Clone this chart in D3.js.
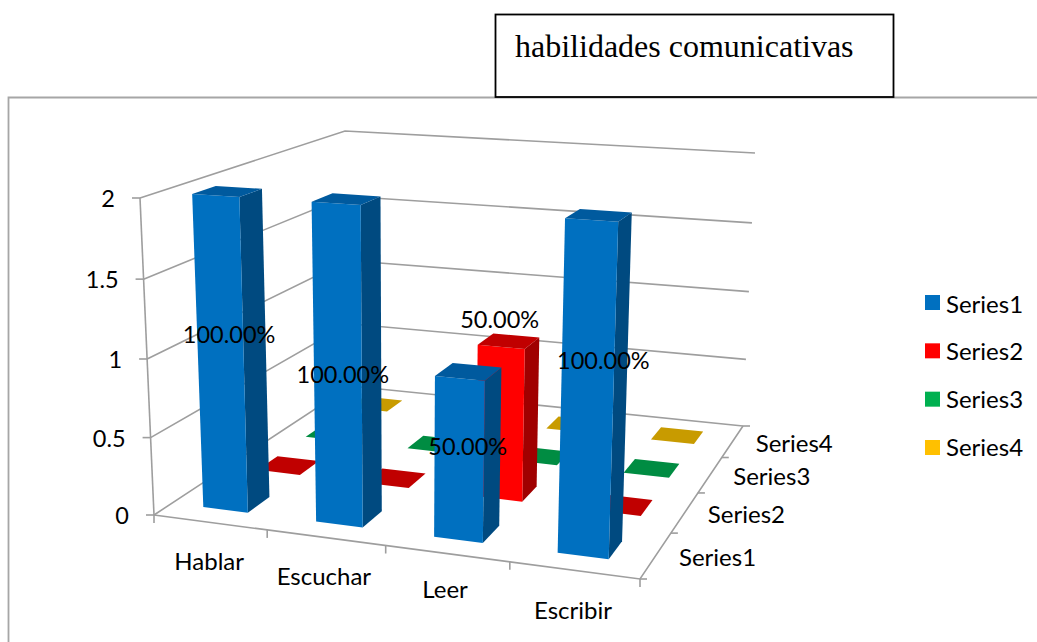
<!DOCTYPE html>
<html><head><meta charset="utf-8">
<script src="https://cdn.jsdelivr.net/npm/d3@7/dist/d3.min.js"></script>
<style>html,body{margin:0;padding:0;background:#fff}svg{display:block}text{fill:#000}</style>
</head><body><svg id="c" width="1037" height="642"></svg>
<script>
// ---- data ----
const categories = ["Hablar","Escuchar","Leer","Escribir"];
const seriesNames = ["Series1","Series2","Series3","Series4"];
const series1 = [2,2,1,2];
const series2 = [0,0,1,0];
const series3 = [0,0,0,0];
const series4 = [0,0,0,0];
const series1Labels = ["100.00%","100.00%","50.00%","100.00%"];
const series2Labels = ["","","50.00%",""];
const valueTicks = [0,0.5,1,1.5,2];
const valueTickLabels = ["0","0.5","1","1.5","2"];
const titleText = "habilidades comunicativas";

// ---- styles ----
const legendColors = ["#0070C0","#FF0000","#00B050","#FFC000"];
const frontColors  = ["#0070C0","#FF0000","#00B050","#FFC000"];
const sideColors   = ["#004A80","#A00000","#00703A","#A88000"];
const topColors    = ["#005A9E","#C00000","#008C42","#C89B00"];
const grid = "#9E9E9E";

// ---- layout: the 3D box on screen ----
const floorQuad = [[154,515],[640,579],[743,426],[350,386]];   // front-left, front-right, back-right, back-left
const topQuad   = [[140,198],[651,232],[755,153],[345,131]];
function quadMap(q){
  const [[x0,y0],[x1,y1],[x2,y2],[x3,y3]] = q;
  const dx1=x1-x2, dx2=x3-x2, sx=x0-x1+x2-x3, dy1=y1-y2, dy2=y3-y2, sy=y0-y1+y2-y3;
  const det=dx1*dy2-dx2*dy1;
  const g=(sx*dy2-dx2*sy)/det, h=(dx1*sy-sx*dy1)/det;
  const a=x1-x0+g*x1,b=x3-x0+h*x3,c=x0,d=y1-y0+g*y1,e=y3-y0+h*y3,f=y0;
  return (u,v)=>{const w=g*u+h*v+1;return [(a*u+b*v+c)/w,(d*u+e*v+f)/w];};
}
const floorMap = quadMap(floorQuad), topMap = quadMap(topQuad);
const heightPerspective = 1.032;
const project = (u,v,w)=>{
  const p=floorMap(u,v), q=topMap(u,v);
  const t = w/(w+(1-w)*heightPerspective);
  return [p[0]+(q[0]-p[0])*t, p[1]+(q[1]-p[1])*t];
};

// ---- scales ----
const xBand = d3.scaleBand().domain(categories).range([-0.004,0.996]).paddingInner(0.6).paddingOuter(0.3);
const zBand = d3.scaleBand().domain(seriesNames).range([0,1]).paddingInner(0.6).paddingOuter(0.3);
const yScale = d3.scaleLinear().domain([0,2]).range([0,1]);

const svg = d3.select("#c");
const line = d3.line();
const poly = pts => line(pts)+"Z";

// chart frame
svg.append("path").attr("d","M8.5,642V97.5H1037").attr("fill","none").attr("stroke","#A6A6A6").attr("stroke-width",1.8);

// title box
svg.append("rect").attr("x",495.5).attr("y",14.5).attr("width",398).attr("height",82.5)
  .attr("fill","#fff").attr("stroke","#000").attr("stroke-width",1.8);
svg.append("text").attr("x",515).attr("y",57).attr("font-family","'Liberation Serif'").attr("font-size",32).text(titleText);

// walls
const gridG = svg.append("g").attr("fill","none").attr("stroke",grid).attr("stroke-width",1.6);
valueTicks.forEach(t=>{
  const w=yScale(t);
  gridG.append("path").attr("d",line([project(0,0,w),project(0,1,w),project(1,1,w)]));
  const a=project(0,0,w);
  gridG.append("path").attr("d",line([[a[0]-8,a[1]],a]));
});
gridG.append("path").attr("d",line([project(0,0,0),project(0,0,1)]));
gridG.append("path").attr("d",line([project(0,0,0),project(1,0,0),project(1,1,0)]));
// category ticks
d3.range(0,5).forEach(i=>{
  const a=project(i/4,0,0);
  gridG.append("path").attr("d",line([a,[a[0],a[1]+8]]));
  const b=project(1,i/4,0);
  gridG.append("path").attr("d",line([b,[b[0]+7,b[1]]]));
});

// bars, back to front
const allSeries = [series1,series2,series3,series4];
d3.range(3,-1,-1).forEach(si=>{
  categories.forEach((cat,ci)=>{
    const u0=xBand(cat),u1=u0+xBand.bandwidth();
    const v0=zBand(seriesNames[si]),v1=v0+zBand.bandwidth();
    const w=yScale(allSeries[si][ci]);
    const g=svg.append("g");
    g.append("path").attr("d",poly([project(u1,v0,0),project(u1,v1,0),project(u1,v1,w),project(u1,v0,w)])).attr("fill",sideColors[si]);
    g.append("path").attr("d",poly([project(u0,v0,0),project(u1,v0,0),project(u1,v0,w),project(u0,v0,w)])).attr("fill",frontColors[si]);
    g.append("path").attr("d",poly([project(u0,v0,w),project(u1,v0,w),project(u1,v1,w),project(u0,v1,w)])).attr("fill",topColors[si]);
  });
});

// data labels
const labelSize = 23.5;
const labelNudge = {"0-0":[-3,-15],"0-1":[-5,14],"0-2":[0,-6],"0-3":[9,-24],"1-2":[-8,-98]};
[series1Labels,series2Labels].forEach((labels,si)=>{
  labels.forEach((t,ci)=>{
    if(!t) return;
    const u=xBand(categories[ci])+xBand.bandwidth()/2, v=zBand(seriesNames[si])+zBand.bandwidth()/2;
    const p=project(u,v,yScale(allSeries[si][ci])/2);
    const n=labelNudge[si+"-"+ci];
    svg.append("text").attr("x",p[0]+n[0]).attr("y",p[1]+n[1])
      .attr("text-anchor","middle").attr("dominant-baseline","central")
      .attr("font-family","Lato").attr("font-size",labelSize).text(t);
  });
});

// value axis labels
valueTicks.forEach((t,i)=>{
  const a=project(0,0,yScale(t));
  svg.append("text").attr("x",a[0]-25).attr("y",a[1]).attr("text-anchor","end").attr("dominant-baseline","central")
    .attr("font-family","Lato").attr("font-size",23.5).text(valueTickLabels[i]);
});
// category labels
const catNudge = [[1,-1],[0,-1],[0,-4],[1,0]];
categories.forEach((c,i)=>{
  const a=project(xBand(c)+xBand.bandwidth()/2,0,0);
  svg.append("text").attr("x",a[0]+catNudge[i][0]).attr("y",a[1]+39+catNudge[i][1]).attr("text-anchor","middle").attr("dominant-baseline","central")
    .attr("font-family","Lato").attr("font-size",24).text(c);
});
// series labels
seriesNames.forEach(s=>{
  const a=project(1,zBand(s)+zBand.bandwidth()/2,0);
  svg.append("text").attr("x",a[0]+23).attr("y",a[1]+1).attr("text-anchor","start").attr("dominant-baseline","central")
    .attr("font-family","Lato").attr("font-size",24).text(s);
});
// legend
const legY = d3.scalePoint().domain(seriesNames).range([302.5,447.5]);
const legTextY = d3.scalePoint().domain(seriesNames).range([303,446]);
seriesNames.forEach((s,i)=>{
  svg.append("rect").attr("x",925).attr("y",legY(s)-7.5).attr("width",15).attr("height",15).attr("fill",legendColors[i]);
  svg.append("text").attr("x",946).attr("y",legTextY(s)).attr("dominant-baseline","central")
    .attr("font-family","Lato").attr("font-size",24).text(s);
});
</script></body></html>
